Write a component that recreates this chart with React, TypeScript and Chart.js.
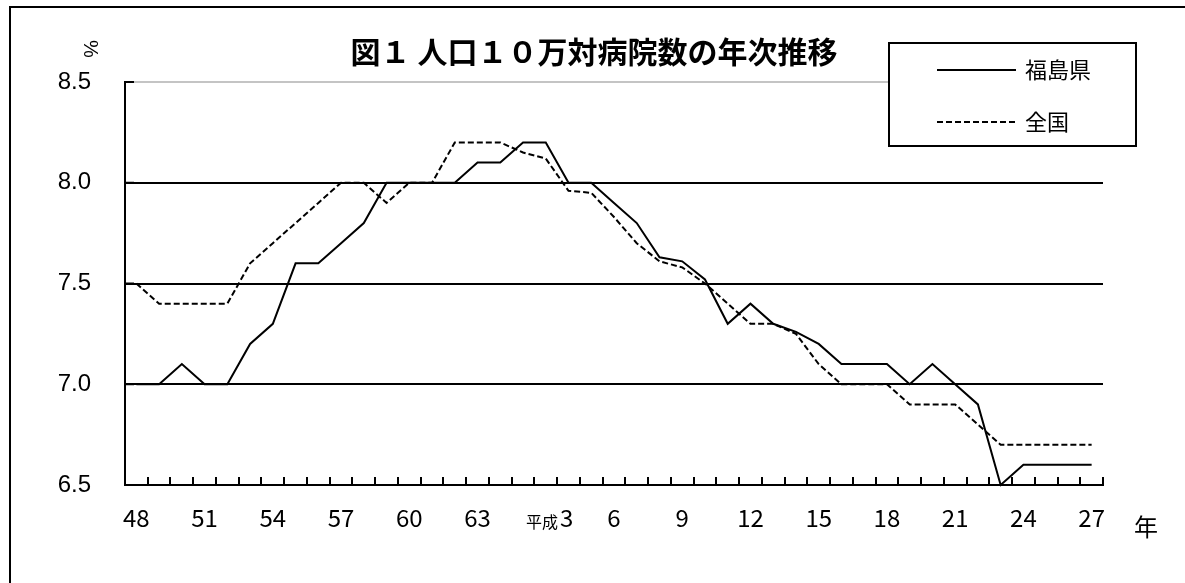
import React, { useEffect, useRef } from 'react';
import { Chart, registerables } from 'chart.js';

Chart.register(...registerables);

const W = 1185;
const H = 583;

// Category labels: 昭和48年 … 昭和63年, 平成元年 … 平成27年
const categories = [
  '48', '49', '50', '51', '52', '53', '54', '55', '56', '57', '58', '59', '60', '61', '62', '63',
  '元', '2', '3', '4', '5', '6', '7', '8', '9', '10', '11', '12', '13', '14', '15', '16', '17',
  '18', '19', '20', '21', '22', '23', '24', '25', '26', '27',
];

// Tick labels shown every 3 categories
const tickLabels = ['48', '51', '54', '57', '60', '63', '平成3', '6', '9', '12', '15', '18', '21', '24', '27'];
const tickStep = 3;

const yTicks = [6.5, 7.0, 7.5, 8.0, 8.5];

const fukushima = [
  7.0, 7.0, 7.1, 7.0, 7.0, 7.2, 7.3, 7.6, 7.6, 7.7,
  7.8, 8.0, 8.0, 8.0, 8.0, 8.1, 8.1, 8.2, 8.2, 8.0,
  8.0, 7.9, 7.8, 7.63, 7.61, 7.52, 7.3, 7.4, 7.3, 7.26,
  7.2, 7.1, 7.1, 7.1, 7.0, 7.1, 7.0, 6.9, 6.5, 6.6,
  6.6, 6.6, 6.6,
];

const zenkoku = [
  7.5, 7.4, 7.4, 7.4, 7.4, 7.6, 7.7, 7.8, 7.9, 8.0,
  8.0, 7.9, 8.0, 8.0, 8.2, 8.2, 8.2, 8.15, 8.12, 7.96,
  7.95, 7.83, 7.7, 7.61, 7.58, 7.5, 7.4, 7.3, 7.3, 7.25,
  7.1, 7.0, 7.0, 7.0, 6.9, 6.9, 6.9, 6.8, 6.7, 6.7,
  6.7, 6.7, 6.7,
];

const seriesNames = ['福島県', '全国'];
const titleText = '図１ 人口１０万対病院数の年次推移';
const yUnit = '%';
const xUnit = '年';

const CJK = '"Noto Sans CJK JP", "Noto Sans CJK SC", sans-serif';
const LAT = '"Liberation Sans", Arial, sans-serif';

const decorPlugin = {
  id: 'decor',
  beforeDraw(chart: any) {
    const ctx = chart.ctx;
    ctx.save();
    ctx.fillStyle = '#fff';
    ctx.fillRect(0, 0, chart.width, chart.height);
    ctx.restore();
  },
  afterDraw(chart: any) {
    const ctx = chart.ctx;
    const ca = chart.chartArea;
    const xs = chart.scales.x;
    const ys = chart.scales.y;
    ctx.save();

    // outer frame
    ctx.strokeStyle = '#000';
    ctx.lineWidth = 2;
    ctx.strokeRect(10, 7, 3000, 3000);

    // inside tick marks on x axis (category boundaries)
    const n = categories.length;
    ctx.beginPath();
    for (let i = 0; i <= n; i++) {
      const px = Math.round(ca.left + ((ca.right - ca.left) * i) / n);
      ctx.moveTo(px, ca.bottom);
      ctx.lineTo(px, ca.bottom - 8);
    }
    // inside tick marks on y axis
    yTicks.forEach((v) => {
      const py = ys.getPixelForValue(v);
      ctx.moveTo(ca.left, py);
      ctx.lineTo(ca.left + 9, py);
    });
    ctx.stroke();

    // special label 平成3 (mixed sizes)
    const idx = tickLabels.indexOf('平成3') * tickStep;
    const cx = xs.getPixelForValue(idx);
    const baseY = ca.bottom + 19 + 14.4 + 9;
    ctx.fillStyle = '#000';
    ctx.textBaseline = 'alphabetic';
    ctx.textAlign = 'left';
    ctx.font = `16px ${CJK}`;
    const w1 = ctx.measureText('平成').width;
    ctx.font = `24px ${CJK}`;
    const w2 = ctx.measureText('3').width;
    const gap = 2;
    const start = cx + 4 - (w1 + gap + w2) / 2;
    ctx.font = `16px ${CJK}`;
    ctx.fillText('平成', start, baseY + 1);
    ctx.font = `24px ${CJK}`;
    ctx.fillText('3', start + w1 + gap, baseY);

    // x unit
    ctx.textAlign = 'center';
    ctx.textBaseline = 'middle';
    ctx.font = `24px ${CJK}`;
    ctx.fillText(xUnit, 1146, 527);

    // y unit (rotated)
    ctx.save();
    ctx.translate(90, 49);
    ctx.rotate(Math.PI / 2);
    ctx.textAlign = 'center';
    ctx.textBaseline = 'middle';
    ctx.font = `20px ${LAT}`;
    ctx.fillText(yUnit, 0, 0);
    ctx.restore();

    // title
    ctx.font = `bold 30px ${CJK}`;
    ctx.textAlign = 'center';
    ctx.textBaseline = 'middle';
    ctx.fillText(titleText, 594, 52);

    // legend box
    const lx = 889, ly = 43, lw = 247, lh = 103;
    ctx.fillStyle = '#fff';
    ctx.fillRect(lx, ly, lw, lh);
    ctx.strokeStyle = '#000';
    ctx.lineWidth = 2;
    ctx.strokeRect(lx, ly, lw, lh);
    const rows = [70, 122];
    chart.data.datasets.forEach((ds: any, i: number) => {
      const yy = rows[i];
      ctx.beginPath();
      ctx.setLineDash(ds.borderDash || []);
      ctx.lineWidth = 2;
      ctx.strokeStyle = ds.borderColor;
      ctx.moveTo(937, yy);
      ctx.lineTo(1016, yy);
      ctx.stroke();
      ctx.setLineDash([]);
      ctx.fillStyle = '#000';
      ctx.font = `22px ${CJK}`;
      ctx.textAlign = 'left';
      ctx.textBaseline = 'middle';
      ctx.fillText(ds.label, 1025, yy);
    });

    ctx.restore();
  },
};

export default function App() {
  const ref = useRef<HTMLCanvasElement | null>(null);

  useEffect(() => {
    if (!ref.current) return;
    const chart = new Chart(ref.current, {
      type: 'line',
      data: {
        labels: categories,
        datasets: [
          {
            label: seriesNames[0],
            data: fukushima,
            borderColor: '#000',
            borderWidth: 2,
            pointRadius: 0,
            tension: 0,
            fill: false,
            clip: false,
          } as any,
          {
            label: seriesNames[1],
            data: zenkoku,
            borderColor: '#000',
            borderWidth: 2,
            borderDash: [6, 3],
            pointRadius: 0,
            tension: 0,
            fill: false,
            clip: false,
          } as any,
        ],
      },
      options: {
        responsive: false,
        animation: false,
        devicePixelRatio: 1,
        layout: { padding: { top: 82, right: 82, left: 0, bottom: 0 } },
        plugins: {
          legend: { display: false },
          title: { display: false },
          tooltip: { enabled: false },
        },
        scales: {
          x: {
            type: 'category',
            offset: true,
            grid: { display: false, drawTicks: false },
            border: { display: true, color: '#000', width: 2 },
            ticks: {
              autoSkip: false,
              maxRotation: 0,
              minRotation: 0,
              padding: 18,
              color: '#000',
              font: { family: CJK, size: 24 },
              callback: (_v: any, i: number) => {
                if (i % tickStep !== 0) return '';
                const t = tickLabels[i / tickStep];
                return t === '平成3' ? '' : t;
              },
            },
            afterFit: (s: any) => {
              s.height = 98;
            },
          },
          y: {
            min: 6.5,
            max: 8.5,
            ticks: {
              stepSize: 0.5,
              padding: 34,
              color: '#000',
              font: { family: LAT, size: 24 },
              callback: (v: any) => Number(v).toFixed(1),
            },
            grid: {
              drawTicks: false,
              lineWidth: 2,
              color: (c: any) => (c.tick && c.tick.value === 8.5 ? '#c4c4c4' : '#000'),
            },
            border: { display: true, color: '#000', width: 2 },
            afterFit: (s: any) => {
              s.width = 125;
            },
          },
        },
      } as any,
      plugins: [decorPlugin],
    });
    return () => chart.destroy();
  }, []);

  return (
    <div style={{ position: 'fixed', left: 0, top: 0, width: W, height: H, background: '#fff' }}>
      <canvas ref={ref} width={W} height={H} style={{ width: W, height: H, display: 'block' }} />
    </div>
  );
}
